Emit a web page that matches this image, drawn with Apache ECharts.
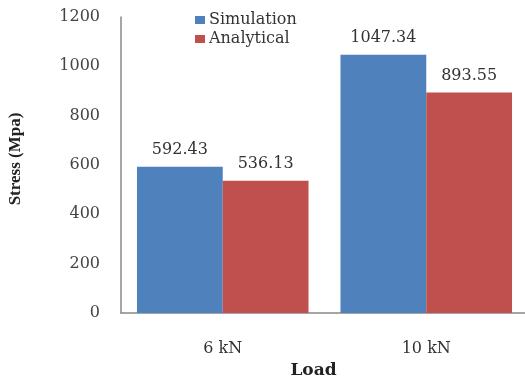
<!DOCTYPE html>
<html>
<head>
<meta charset="utf-8">
<script src="https://cdn.jsdelivr.net/npm/echarts@6/dist/echarts.min.js"></script>
<style>html,body{margin:0;padding:0;background:#fff}#chart{width:525px;height:383px}</style>
</head>
<body>
<div id="chart"></div>
<script>
// Peak stress per load case
const categories = ['6 kN', '10 kN'];
const simulation = [592.43, 1047.34];
const analytical = [536.13, 893.55];
const yTicks = [0, 200, 400, 600, 800, 1000, 1200];

const font = 'DejaVu Serif';
const chart = echarts.init(document.getElementById('chart'));
const labelStyle = {
  show: true, position: 'top', distance: 9,
  fontFamily: font, fontSize: 16, color: '#333',
  formatter: p => p.value.toFixed(2)
};
chart.setOption({
  animation: false,
  textStyle: { fontFamily: font },
  legend: {
    left: 190, top: 7, orient: 'vertical', itemGap: 3,
    itemWidth: 10, itemHeight: 8, icon: 'rect',
    textStyle: { fontFamily: font, fontSize: 16, color: '#333', padding: [0, 0, 0, -1] },
    data: ['Simulation', 'Analytical']
  },
  grid: { left: 121, right: -3, top: 17, bottom: 70, containLabel: false, outerBoundsMode: 'none' },
  xAxis: {
    type: 'category', data: categories,
    name: 'Load', nameLocation: 'middle', nameGap: 47,
    nameTextStyle: { fontFamily: font, fontSize: 17, fontWeight: 'bold', color: '#222', padding: [0, 22, 0, 0] },
    axisLine: { lineStyle: { color: '#888', width: 1.5 } },
    axisTick: { show: false },
    axisLabel: { fontFamily: font, fontSize: 16, color: '#333', margin: 28 }
  },
  yAxis: {
    type: 'value', min: yTicks[0], max: yTicks[yTicks.length - 1], interval: 200,
    name: 'Stress (Mpa)', nameLocation: 'middle', nameGap: 97, nameRotate: 90,
    nameTextStyle: { fontFamily: 'Liberation Serif', fontSize: 17, fontWeight: 'bold', color: '#222', padding: [0, 0, 0, 12] },
    axisLine: { show: true, lineStyle: { color: '#888', width: 1.5 } },
    axisTick: { show: false },
    splitLine: { show: false },
    axisLabel: { fontFamily: font, fontSize: 16, color: '#444', margin: 21, formatter: v => String(v) }
  },
  series: [
    { name: 'Simulation', type: 'bar', data: simulation, barGap: '0%', barCategoryGap: '15.7%',
      itemStyle: { color: '#4f81bd' }, label: labelStyle },
    { name: 'Analytical', type: 'bar', data: analytical,
      itemStyle: { color: '#c0504d' }, label: labelStyle }
  ]
});
</script>
</body>
</html>
